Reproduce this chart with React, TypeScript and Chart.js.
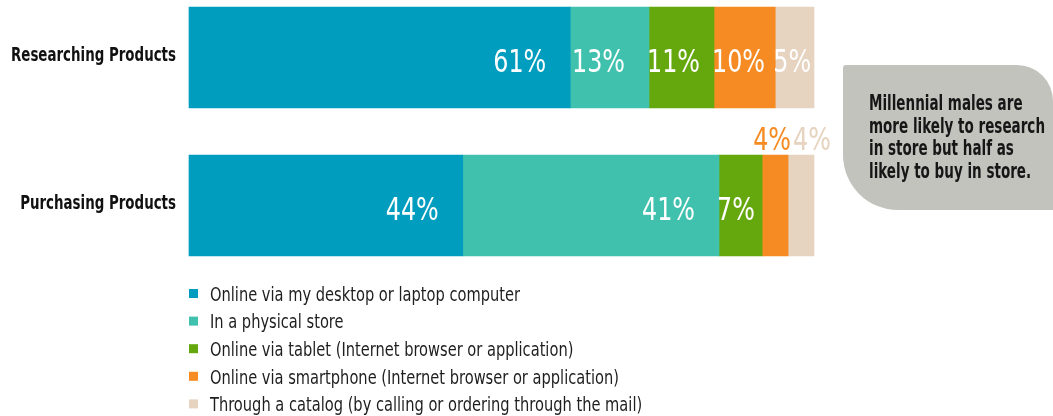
import React, { useEffect, useRef } from 'react';
import { Chart, registerables } from 'chart.js';

Chart.register(...registerables);

const categories = ['Researching Products', 'Purchasing Products'];
const seriesNames = [
  'Online via my desktop or laptop computer',
  'In a physical store',
  'Online via tablet (Internet browser or application)',
  'Online via smartphone (Internet browser or application)',
  'Through a catalog (by calling or ordering through the mail)',
];
const seriesColors = ['#019DBF', '#40C1AE', '#65A80E', '#F58B22', '#E6D3C0'];

// segment shares (as drawn) for [Researching, Purchasing]
const desktopValues = [61, 43.8];
const storeValues = [12.6, 41];
const tabletValues = [10.4, 6.9];
const smartphoneValues = [9.8, 4.15];
const catalogValues = [6.2, 4.15];

// rounded percentages printed on the segments
const desktopLabels = [61, 44];
const storeLabels = [13, 41];
const tabletLabels = [11, 7];
const smartphoneLabels = [10, 4];
const catalogLabels = [5, 4];

const seriesValues = [desktopValues, storeValues, tabletValues, smartphoneValues, catalogValues];
const seriesLabels = [desktopLabels, storeLabels, tabletLabels, smartphoneLabels, catalogLabels];

const calloutLines = [
  'Millennial males are',
  'more likely to research',
  'in store but half as',
  'likely to buy in store.',
];

const FONT = '"DejaVu Sans Condensed", "DejaVu Sans", sans-serif';

// horizontal condensing factor so the fallback font matches the narrow original typeface
function fitScale(ctx: CanvasRenderingContext2D, font: string, sample: string, target: number) {
  ctx.save();
  ctx.font = font;
  const w = ctx.measureText(sample).width;
  ctx.restore();
  return w > 0 ? target / w : 1;
}

function drawText(
  ctx: CanvasRenderingContext2D,
  text: string,
  x: number,
  y: number,
  sx: number,
  align: 'left' | 'right'
) {
  ctx.save();
  ctx.translate(x, y);
  ctx.scale(sx, 1);
  ctx.textAlign = align;
  ctx.fillText(text, 0, 0);
  ctx.restore();
}

const VALUE_FONT = `32px ${FONT}`;
const CAT_FONT = `bold 20px ${FONT}`;
const LEGEND_FONT = `19px ${FONT}`;
const CALLOUT_FONT = `bold 20.5px ${FONT}`;

const segLabelPlugin = {
  id: 'segLabels',
  afterDatasetsDraw(chart: any) {
    const ctx = chart.ctx;
    const sx = fitScale(ctx, VALUE_FONT, '61%', 53);
    ctx.save();
    ctx.font = VALUE_FONT;
    ctx.textBaseline = 'alphabetic';
    for (let j = 0; j < categories.length; j++) {
      let prevRight = -Infinity;
      chart.data.datasets.forEach((ds: any, i: number) => {
        const el = chart.getDatasetMeta(i).data[j];
        const start = Math.min(el.base, el.x);
        const end = Math.max(el.base, el.x);
        const text = seriesLabels[i][j] + '%';
        const tw = ctx.measureText(text).width * sx;
        if (tw <= end - start + 2) {
          const right = Math.max(end - 24, start + tw - 2);
          ctx.fillStyle = '#ffffff';
          drawText(ctx, text, right, el.y + 14, sx, 'right');
        } else {
          const left = Math.max((start + end) / 2 - tw / 2 - 3, prevRight + 2);
          ctx.fillStyle = seriesColors[i];
          drawText(ctx, text, left, el.y - el.height / 2 - 5, sx, 'left');
          prevRight = left + tw;
        }
      });
    }
    ctx.restore();
  },
};

const decorPlugin = {
  id: 'decor',
  afterDraw(chart: any) {
    const ctx = chart.ctx;
    ctx.save();
    ctx.textBaseline = 'alphabetic';

    // category labels
    const yScale = chart.scales.y;
    const catSx = fitScale(ctx, CAT_FONT, categories[0], 165);
    ctx.font = CAT_FONT;
    ctx.fillStyle = '#111111';
    chart.data.labels.forEach((lab: string, j: number) => {
      const cy = yScale.getPixelForValue(j);
      drawText(ctx, lab, chart.chartArea.left - 13, cy + 3.2, catSx, 'right');
    });

    // vertical legend
    const legSx = fitScale(ctx, LEGEND_FONT, seriesNames[0], 310);
    ctx.font = LEGEND_FONT;
    chart.data.datasets.forEach((ds: any, i: number) => {
      const cy = 293.5 + i * 27.6;
      ctx.fillStyle = ds.backgroundColor;
      ctx.fillRect(189, cy - 4.5, 9, 9);
      ctx.fillStyle = '#1e1e1e';
      drawText(ctx, ds.label, 210, cy + 7.2, legSx, 'left');
    });

    // callout box
    const L = 843, T = 65, R = 1053, B = 210;
    ctx.fillStyle = '#C2C3BD';
    ctx.beginPath();
    ctx.moveTo(L + 3, T);
    ctx.lineTo(R - 36, T);
    ctx.arcTo(R, T, R, T + 36, 36);
    ctx.lineTo(R, B);
    ctx.lineTo(L + 55, B);
    ctx.arcTo(L, B, L, B - 55, 55);
    ctx.lineTo(L, T + 3);
    ctx.arcTo(L, T, L + 3, T, 3);
    ctx.closePath();
    ctx.fill();

    const calSx = fitScale(ctx, CALLOUT_FONT, calloutLines[1], 176);
    ctx.font = CALLOUT_FONT;
    ctx.fillStyle = '#161616';
    calloutLines.forEach((line, k) => {
      drawText(ctx, line, 869, 110 + k * 22.7, calSx, 'left');
    });
    ctx.restore();
  },
};

export default function App() {
  const ref = useRef<HTMLCanvasElement>(null);
  useEffect(() => {
    if (!ref.current) return;
    const chart = new Chart(ref.current, {
      type: 'bar',
      data: {
        labels: categories,
        datasets: seriesNames.map((name, i) => ({
          label: name,
          data: seriesValues[i],
          backgroundColor: seriesColors[i],
          borderWidth: 0,
          barThickness: 101,
          clip: false as any,
        })),
      },
      options: {
        indexAxis: 'y',
        animation: false,
        responsive: false,
        maintainAspectRatio: false,
        layout: { padding: { top: 57.5, bottom: 210.5, left: 0, right: 239 } },
        plugins: {
          legend: { display: false },
          tooltip: { enabled: false },
        },
        scales: {
          x: { stacked: true, min: 0, max: 100, display: false },
          y: {
            stacked: true,
            offset: false,
            grid: { display: false },
            border: { display: false },
            ticks: { display: false },
            afterFit: (scale: any) => {
              scale.width = 189;
            },
          },
        },
      },
      plugins: [segLabelPlugin, decorPlugin],
    });
    return () => chart.destroy();
  }, []);
  return (
    <div style={{ position: 'absolute', left: 0, top: 0, width: 1053, height: 416, background: '#fff' }}>
      <canvas ref={ref} width={1053} height={416} style={{ display: 'block' }} />
    </div>
  );
}
